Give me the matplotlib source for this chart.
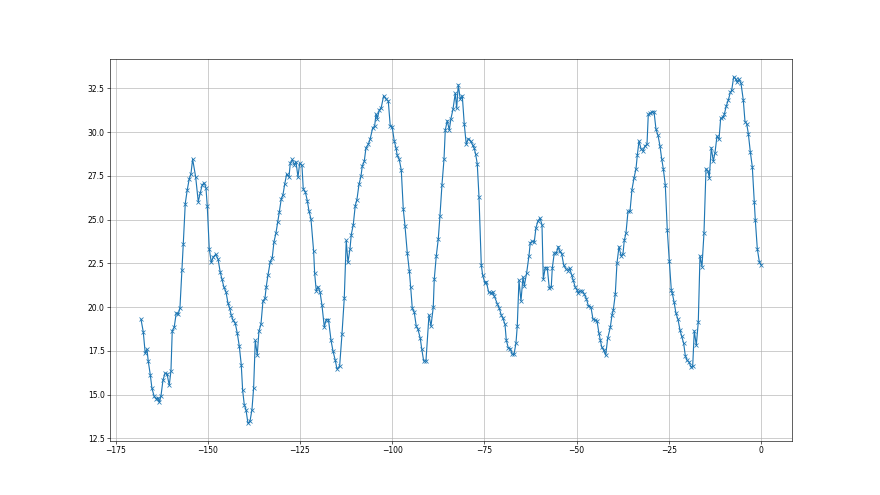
import matplotlib
matplotlib.use("Agg")
import matplotlib.pyplot as plt

hours = [
    -168.1, -167.49, -166.95, -166.49, -166.13, -165.59, -165.13, -164.51, -163.97, -163.59,
    -163.15, -162.69, -162.15, -161.61, -161.06, -160.44, -159.98, -159.63, -159.09, -158.54,
    -158.0, -157.54, -157.0, -156.64, -156.10, -155.56, -155.02, -154.56, -154.10, -153.28,
    -152.58, -152.03, -151.49, -150.95, -150.49, -150.14, -149.59, -149.05, -148.51, -147.86,
    -147.23, -146.61, -146.15, -145.61, -145.07, -144.52, -144.06, -143.63, -143.17, -142.54,
    -142.0, -141.46, -140.92, -140.54, -140.10, -139.64, -139.10, -138.56, -138.02, -137.56,
    -137.12, -136.58, -136.12, -135.58, -135.03, -134.49, -134.14, -133.68, -133.05, -132.51,
    -132.05, -131.51, -131.05, -130.61, -130.07, -129.61, -129.15, -128.61, -127.98, -127.63,
    -127.09, -126.55, -126.08, -125.54, -125.08, -124.46, -124.11, -123.56, -123.02, -122.56,
    -122.02, -121.29, -121.02, -120.58, -120.12, -119.58, -119.04, -118.41, -117.87, -117.27,
    -116.59, -116.05, -115.43, -114.97, -114.24, -113.61, -112.99, -112.45, -111.99, -111.44,
    -111.09, -110.55, -110.01, -109.55, -109.0, -108.46, -108.11, -107.57, -107.10, -106.48,
    -105.94, -105.29, -104.75, -104.39, -104.04, -103.50, -102.96, -102.31, -101.68, -101.06,
    -100.52, -100.0, -99.43, -98.97, -98.62, -98.08, -97.53, -96.99, -96.53, -95.90,
    -95.36, -94.98, -94.55, -94.01, -93.47, -93.0, -92.38, -92.0, -91.46, -90.84,
    -90.02, -89.48, -88.86, -88.59, -88.04, -87.50, -87.04, -86.50, -85.95, -85.60,
    -85.06, -84.52, -84.06, -83.51, -82.89, -82.51, -82.08, -81.54, -80.99, -80.45,
    -79.91, -79.37, -78.72, -78.17, -77.74, -77.36, -76.93, -76.46, -75.84, -75.46,
    -74.84, -74.49, -73.84, -73.29, -72.75, -72.32, -71.50, -70.96, -70.42, -69.96,
    -69.41, -69.06, -68.52, -67.98, -67.44, -66.97, -66.43, -66.08, -65.62, -65.08,
    -64.53, -64.18, -63.53, -62.91, -62.55, -62.01, -61.47, -61.01, -60.47, -59.92,
    -59.38, -59.03, -58.49, -57.95, -57.40, -56.86, -56.59, -56.05, -55.50, -54.96,
    -54.58, -54.04, -53.50, -52.96, -52.41, -51.87, -51.33, -50.89, -50.35, -49.89,
    -49.54, -49.0, -48.45, -47.91, -47.37, -46.83, -46.10, -45.55, -45.01, -44.47,
    -43.93, -43.57, -43.19, -42.65, -42.11, -41.57, -40.86, -40.40, -40.05, -39.51,
    -39.05, -38.50, -37.96, -37.42, -37.07, -36.61, -36.06, -35.52, -34.98, -34.44,
    -33.89, -33.54, -33.08, -32.54, -32.0, -31.45, -30.91, -30.56, -30.02, -29.47,
    -29.01, -28.47, -27.93, -27.39, -26.93, -26.49, -25.95, -25.41, -24.86, -24.32,
    -24.05, -23.59, -23.05, -22.51, -21.96, -21.50, -20.96, -20.53, -20.07, -19.52,
    -18.98, -18.52, -18.09, -17.54, -17.0, -16.54, -16.0, -15.46, -14.91, -14.37,
    -14.02, -13.48, -12.93, -12.47, -11.93, -11.39, -10.93, -10.30, -9.95, -9.41,
    -8.87, -8.32, -7.94, -7.40, -6.86, -6.43, -5.97, -5.42, -4.80, -4.34,
    -3.88, -3.44, -2.90, -2.36, -1.82, -1.55, -1.0, -0.46, 0.0,
]

temperature = [
    19.30, 18.59, 17.35, 17.59, 16.90, 16.14, 15.35, 14.89, 14.76, 14.82,
    14.55, 14.91, 15.81, 16.21, 16.20, 15.53, 16.35, 18.63, 18.86, 19.66,
    19.60, 19.95, 22.13, 23.60, 25.92, 26.70, 27.33, 27.62, 28.46, 27.44,
    26.03, 26.53, 26.99, 27.10, 26.82, 25.80, 23.33, 22.55, 22.86, 23.01,
    22.76, 21.99, 21.59, 21.13, 20.88, 20.23, 19.93, 19.54, 19.26, 19.07,
    18.51, 17.78, 16.71, 15.24, 14.42, 14.13, 13.36, 13.46, 14.13, 15.39,
    18.09, 17.25, 18.63, 19.01, 20.35, 20.50, 21.17, 21.82, 22.60, 22.83,
    23.73, 24.23, 24.84, 25.42, 26.19, 26.42, 27.01, 27.60, 27.43, 28.21,
    28.44, 28.15, 28.31, 27.43, 28.21, 28.10, 26.76, 26.59, 26.09, 25.50,
    25.04, 23.18, 21.94, 20.92, 21.17, 20.88, 20.12, 18.87, 19.29, 19.29,
    18.11, 17.49, 16.96, 16.46, 16.63, 18.45, 20.50, 23.81, 22.55, 23.32,
    24.14, 24.71, 25.80, 26.15, 27.01, 27.48, 28.06, 28.33, 29.11, 29.30,
    29.63, 30.24, 30.35, 31.04, 30.78, 31.25, 31.41, 32.08, 31.89, 31.79,
    30.35, 30.31, 29.49, 29.11, 28.67, 28.44, 27.83, 25.61, 24.65, 23.09,
    22.09, 21.13, 19.93, 19.70, 18.91, 18.72, 18.21, 17.63, 16.92, 16.92,
    19.54, 18.91, 19.99, 21.59, 22.93, 23.89, 25.23, 26.99, 28.44, 30.12,
    30.66, 30.12, 30.78, 31.31, 32.23, 31.37, 32.71, 31.89, 32.08, 30.45,
    29.30, 29.63, 29.49, 29.25, 29.07, 28.73, 28.19, 26.30, 22.41, 21.82,
    21.36, 21.46, 20.86, 20.79, 20.86, 20.63, 20.19, 19.93, 19.54, 19.35,
    19.01, 18.11, 17.67, 17.63, 17.29, 17.29, 17.95, 18.93, 21.54, 20.35,
    21.72, 21.21, 21.97, 22.93, 23.69, 23.75, 23.73, 24.54, 24.92, 25.09,
    24.71, 21.59, 22.26, 22.26, 21.08, 21.17, 22.22, 23.09, 23.09, 23.46,
    23.18, 23.05, 22.41, 22.20, 22.09, 22.22, 21.84, 21.55, 21.13, 20.98,
    20.79, 20.92, 20.92, 20.73, 20.49, 20.09, 19.99, 19.30, 19.26, 19.22,
    18.49, 18.11, 17.72, 17.53, 17.25, 18.21, 18.84, 19.54, 19.83, 20.73,
    22.51, 23.46, 22.93, 23.05, 23.81, 24.23, 25.47, 25.47, 26.72, 27.37,
    27.91, 28.67, 29.49, 29.06, 28.92, 29.21, 29.30, 31.02, 31.08, 31.16,
    31.18, 30.16, 29.82, 29.21, 28.48, 27.91, 26.99, 24.42, 22.63, 20.98,
    20.79, 20.31, 19.64, 19.30, 18.68, 18.34, 17.92, 17.23, 16.96, 16.86,
    16.58, 16.62, 18.64, 17.82, 19.16, 22.93, 22.32, 24.23, 27.91, 27.77,
    27.39, 29.11, 28.34, 28.83, 29.78, 29.59, 30.80, 30.84, 31.02, 31.50,
    31.83, 32.27, 32.40, 33.17, 33.03, 32.84, 33.03, 32.79, 31.83, 30.61,
    30.49, 29.92, 28.88, 28.02, 26.01, 25.00, 23.33, 22.60, 22.41,
]

fig, ax = plt.subplots(figsize=(16, 9), dpi=55)
ax.plot(hours, temperature, marker="x", color="#1f77b4")
ax.grid(True)
fig.savefig("out.png", dpi=55)
